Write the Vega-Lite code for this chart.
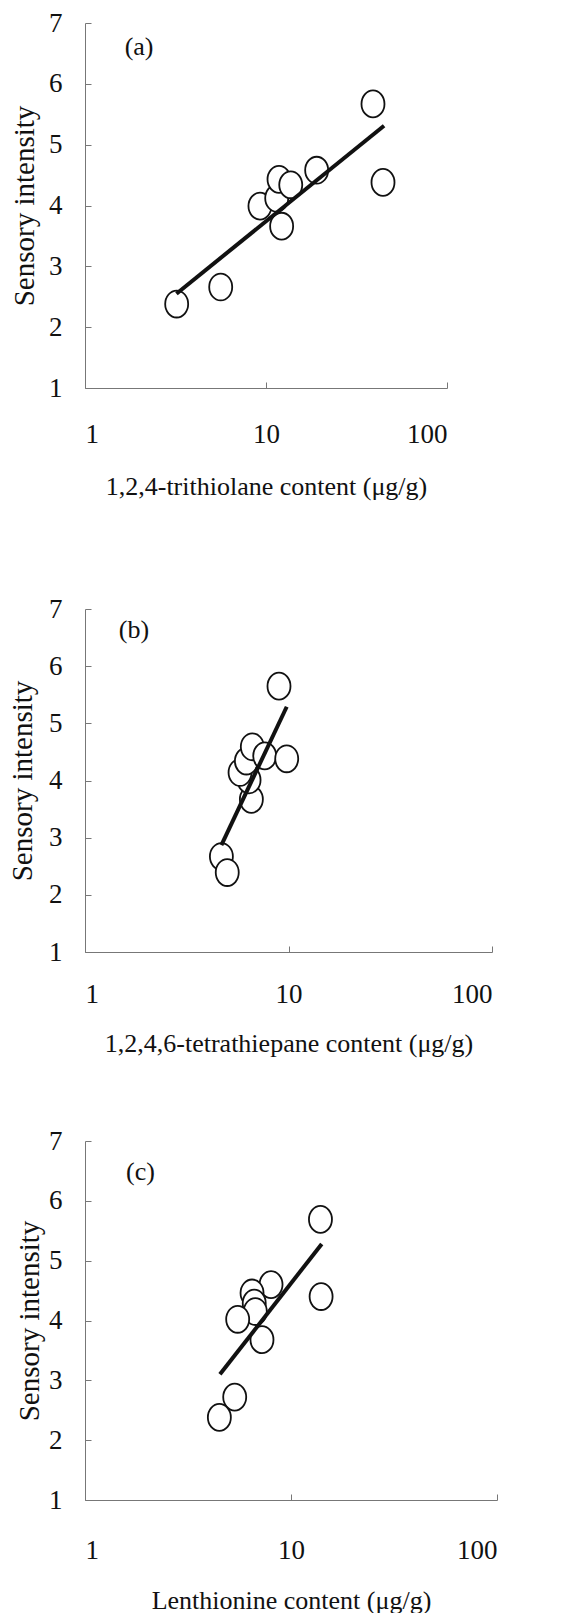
{
  "$schema": "https://vega.github.io/schema/vega-lite/v6.json",
  "background": "white",
  "padding": {"left": 8, "top": 9, "right": 5, "bottom": 0},
  "bounds": "flush",
  "spacing": 189,
  "config": {
    "view": {"stroke": null},
    "font": "Liberation Serif",
    "axis": {
      "grid": false,
      "domainColor": "#777",
      "tickColor": "#777",
      "domainWidth": 1,
      "tickWidth": 1,
      "tickSize": -6,
      "labelFont": "Liberation Serif",
      "labelFontSize": 27,
      "labelColor": "#111",
      "titleFont": "Liberation Serif",
      "titleFontSize": 26,
      "titleFontWeight": "normal",
      "titleColor": "#111"
    }
  },
  "datasets": {
    "ptsA": [
      {"x": 3.21, "y": 2.38}, {"x": 5.62, "y": 2.66}, {"x": 9.26, "y": 3.99}, {"x": 11.46, "y": 4.12},
      {"x": 12.2, "y": 3.66}, {"x": 11.8, "y": 4.43}, {"x": 13.7, "y": 4.34}, {"x": 19.05, "y": 4.58},
      {"x": 39.0, "y": 5.67}, {"x": 44.3, "y": 4.38}
    ],
    "lineA": [{"x": 3.2, "y": 2.55}, {"x": 44.9, "y": 5.31}],
    "labA": [{"x": 1.99, "y": 6.6, "t": "(a)"}],
    "ptsB": [
      {"x": 4.68, "y": 2.67}, {"x": 5.0, "y": 2.39}, {"x": 6.57, "y": 3.67}, {"x": 6.4, "y": 4.01},
      {"x": 5.78, "y": 4.14}, {"x": 6.21, "y": 4.34}, {"x": 6.64, "y": 4.59}, {"x": 7.64, "y": 4.43},
      {"x": 9.8, "y": 4.38}, {"x": 8.98, "y": 5.65}
    ],
    "lineB": [{"x": 4.68, "y": 2.87}, {"x": 9.8, "y": 5.29}],
    "labB": [{"x": 1.74, "y": 6.63, "t": "(b)"}],
    "ptsC": [
      {"x": 13.9, "y": 5.69}, {"x": 14.0, "y": 4.4}, {"x": 8.0, "y": 4.6}, {"x": 6.47, "y": 4.46},
      {"x": 6.63, "y": 4.29}, {"x": 6.71, "y": 4.15}, {"x": 5.51, "y": 4.02}, {"x": 7.23, "y": 3.68},
      {"x": 5.33, "y": 2.72}, {"x": 4.49, "y": 2.38}
    ],
    "lineC": [{"x": 4.52, "y": 3.1}, {"x": 14.1, "y": 5.28}],
    "labC": [{"x": 1.86, "y": 6.49, "t": "(c)"}]
  },
  "vconcat": [
    {
      "width": 362,
      "height": 365,
      "encoding": {
        "x": {"field": "x", "type": "quantitative",
          "scale": {"type": "log", "domain": [1, 100]},
          "axis": {"values": [1, 10, 100], "format": "d", "labelPadding": 39, "titlePadding": 26, "title": "1,2,4-trithiolane content (μg/g)"}},
        "y": {"field": "y", "type": "quantitative",
          "scale": {"domain": [1, 7]},
          "axis": {"values": [1, 2, 3, 4, 5, 6, 7], "labelPadding": 29, "titlePadding": 9, "titleFontSize": 29, "title": "Sensory intensity"}}
      },
      "layer": [
        {"data": {"name": "ptsA"}, "mark": {"type": "point", "shape": "M0,-1.17A1,1.17 0 1,1 0,1.17A1,1.17 0 1,1 0,-1.17Z", "size": 529, "filled": false, "fill": "white", "fillOpacity": 1, "stroke": "#111", "strokeWidth": 1.8, "opacity": 1}},
        {"data": {"name": "lineA"}, "mark": {"type": "line", "color": "#111", "strokeWidth": 4}},
        {"data": {"name": "labA"}, "mark": {"type": "text", "fontSize": 26, "font": "Liberation Serif", "color": "#111"}, "encoding": {"text": {"field": "t"}}}
      ]
    },
    {
      "width": 407,
      "height": 375,
      "encoding": {
        "x": {"field": "x", "type": "quantitative",
          "scale": {"type": "log", "domain": [1, 100]},
          "axis": {"values": [1, 10, 100], "format": "d", "labelPadding": 35, "titlePadding": 23, "title": "1,2,4,6-tetrathiepane content (μg/g)"}},
        "y": {"field": "y", "type": "quantitative",
          "scale": {"domain": [1, 7], "range": [375, 32]},
          "axis": {"values": [1, 2, 3, 4, 5, 6, 7], "labelPadding": 29, "titlePadding": 11, "titleFontSize": 29, "title": "Sensory intensity"}}
      },
      "layer": [
        {"data": {"name": "ptsB"}, "mark": {"type": "point", "shape": "M0,-1.17A1,1.17 0 1,1 0,1.17A1,1.17 0 1,1 0,-1.17Z", "size": 529, "filled": false, "fill": "white", "fillOpacity": 1, "stroke": "#111", "strokeWidth": 1.8, "opacity": 1}},
        {"data": {"name": "lineB"}, "mark": {"type": "line", "color": "#111", "strokeWidth": 4}},
        {"data": {"name": "labB"}, "mark": {"type": "text", "fontSize": 26, "font": "Liberation Serif", "color": "#111"}, "encoding": {"text": {"field": "t"}}}
      ]
    },
    {
      "width": 412,
      "height": 359,
      "encoding": {
        "x": {"field": "x", "type": "quantitative",
          "scale": {"type": "log", "domain": [1, 100]},
          "axis": {"values": [1, 10, 100], "format": "d", "labelPadding": 43, "titlePadding": 24, "title": "Lenthionine content (μg/g)"}},
        "y": {"field": "y", "type": "quantitative",
          "scale": {"domain": [1, 7]},
          "axis": {"values": [1, 2, 3, 4, 5, 6, 7], "labelPadding": 29, "titlePadding": 4, "titleFontSize": 29, "title": "Sensory intensity"}}
      },
      "layer": [
        {"data": {"name": "ptsC"}, "mark": {"type": "point", "shape": "M0,-1.17A1,1.17 0 1,1 0,1.17A1,1.17 0 1,1 0,-1.17Z", "size": 529, "filled": false, "fill": "white", "fillOpacity": 1, "stroke": "#111", "strokeWidth": 1.8, "opacity": 1}},
        {"data": {"name": "lineC"}, "mark": {"type": "line", "color": "#111", "strokeWidth": 4}},
        {"data": {"name": "labC"}, "mark": {"type": "text", "fontSize": 26, "font": "Liberation Serif", "color": "#111"}, "encoding": {"text": {"field": "t"}}}
      ]
    }
  ]
}
